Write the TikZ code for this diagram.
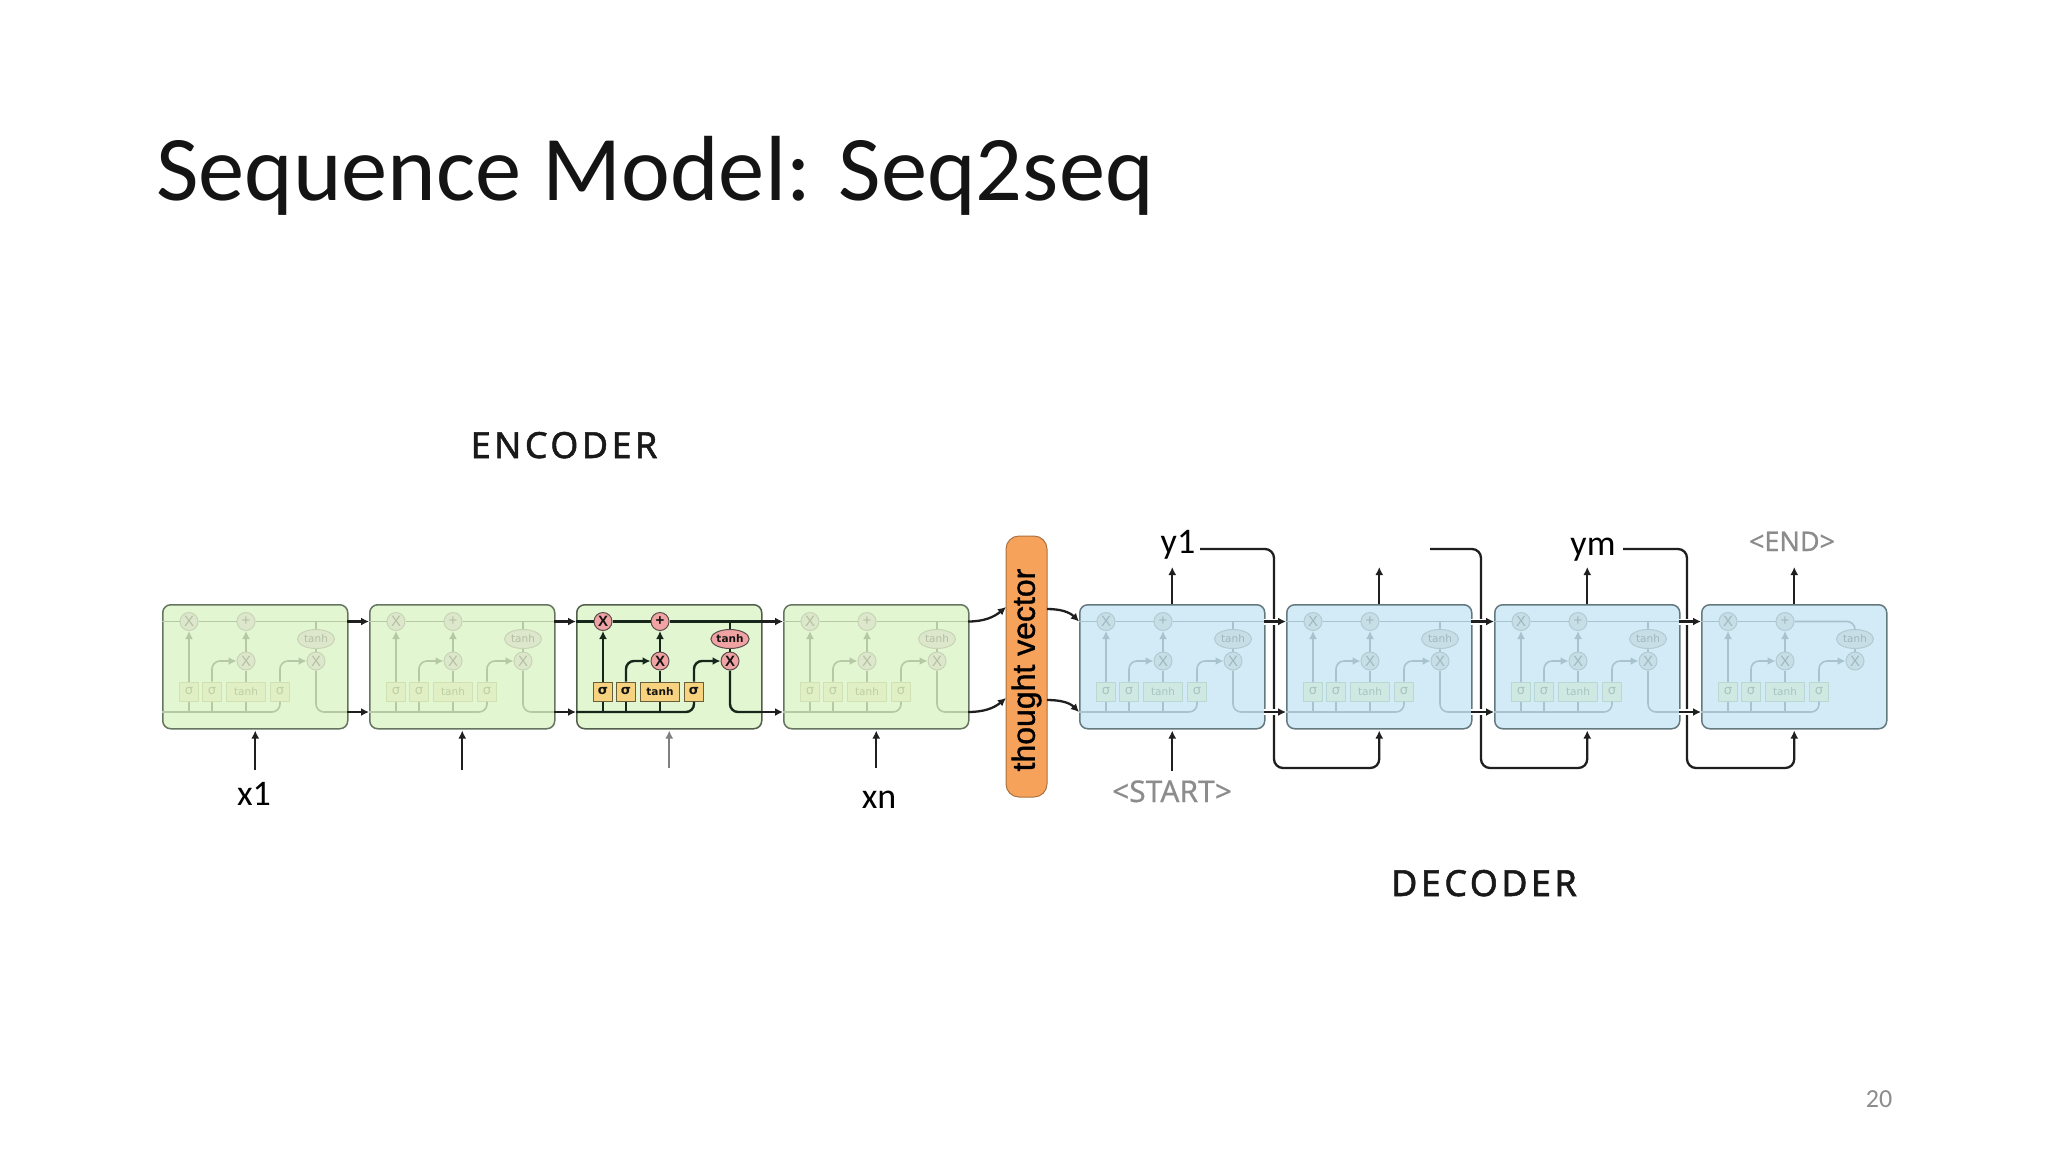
\documentclass[tikz,border=0pt]{standalone}
\usepackage{fontspec}
\setmainfont{Carlito}
\newfontfamily\lblfont[FakeBold=0.4]{Noto Sans}
\newfontfamily\capfont[LetterSpace=9.5,FakeBold=1.4]{Noto Sans}
\newfontfamily\tvfont[FakeBold=1.1]{Liberation Sans}
\newfontfamily\symfont{DejaVu Sans}
\newfontfamily\gatefont{Liberation Sans}
\usetikzlibrary{arrows.meta,shapes.geometric}
\definecolor{cgreen}{HTML}{E2F6D2}
\definecolor{cblue}{HTML}{D3EBF6}
\definecolor{gborder}{HTML}{66755F}
\definecolor{bborder}{HTML}{64797F}
\definecolor{orangetv}{HTML}{F6A25B}
\definecolor{graytxt}{HTML}{8C8C8C}
\newcommand{\gw}{\mdseries}
\tikzset{
  x=1pt,y=-1pt,
  tipped/.style={-{Latex[length=8pt,width=8pt]}},
  cellbox/.style={draw=cellborder,line width=1.5pt,fill=cellfill,rounded corners=8pt,minimum width=185pt,minimum height=124pt,inner sep=0pt,anchor=north west},
  innerwire/.style={draw=innerline,line width=1.6pt},
  gate/.style={circle,draw=gateline,fill=gatefill,line width=1pt,minimum size=18pt,inner sep=0pt,text=gatetext,font=\gatefont\gw\fontsize{15}{15}\selectfont},
  tanhgate/.style={ellipse,draw=gateline,fill=gatefill,line width=1pt,minimum width=37pt,minimum height=19pt,inner sep=0pt,text=gatetext,font=\symfont\gw\fontsize{10.5}{10.5}\selectfont},
  nnlayer/.style={rectangle,draw=boxline,fill=boxfill,line width=1pt,minimum height=19pt,inner sep=0pt,text=boxtext,font=\symfont\gw\fontsize{10.5}{10.5}\selectfont},
  sigmalayer/.style={nnlayer,minimum width=19pt,font=\symfont\gw\fontsize{13}{13}\selectfont},
  bk/.style={draw=black!88,line width=2.3pt},
  halo/.style={draw=white,line width=6pt},
  txtlabel/.style={anchor=base,inner sep=0pt,font=\fontsize{36}{36}\selectfont},
  graylabel/.style={anchor=base,inner sep=0pt,text=graytxt,font=\lblfont\fontsize{30}{30}\selectfont},
  partlabel/.style={anchor=base,inner sep=0pt,text=black!90,font=\capfont\fontsize{36}{36}\selectfont},
}
\newcommand{\themebase}[2]{\colorlet{cellfill}{#1}\colorlet{cellborder}{#2}}
\newcommand{\themegreen}{\themebase{cgreen}{gborder}\renewcommand{\gw}{\mdseries}%
  \definecolor{innerline}{HTML}{B6C8A6}\definecolor{gatefill}{HTML}{DDE7CC}\definecolor{gateline}{HTML}{C8D4B6}\definecolor{gatetext}{HTML}{B4BFA2}\definecolor{boxfill}{HTML}{E0F0C4}\definecolor{boxline}{HTML}{D0E2B2}\definecolor{boxtext}{HTML}{BFCFA4}}
\newcommand{\themeblue}{\themebase{cblue}{bborder}\renewcommand{\gw}{\mdseries}%
  \definecolor{innerline}{HTML}{A8C3CD}\definecolor{gatefill}{HTML}{C8DEE7}\definecolor{gateline}{HTML}{B2CAD3}\definecolor{gatetext}{HTML}{9DB7C0}\definecolor{boxfill}{HTML}{D0E8E2}\definecolor{boxline}{HTML}{BAD8D2}\definecolor{boxtext}{HTML}{A6C4BE}}
\newcommand{\themehot}{\themebase{cgreen}{gborder!80!black}\renewcommand{\gw}{\bfseries}%
  \definecolor{innerline}{HTML}{17261A}\definecolor{gatefill}{HTML}{F1A3A3}\definecolor{gateline}{HTML}{5A4A4A}\definecolor{gatetext}{HTML}{141414}\definecolor{boxfill}{HTML}{F8D37F}\definecolor{boxline}{HTML}{6A5D3A}\definecolor{boxtext}{HTML}{141414}}
% name, x
\newcommand{\cellparts}[2]{%
  \begin{scope}[shift={(#2,604)}]
    \node[cellbox] (#1) at (0,0) {};
    \coordinate (#1-tl) at (0,17.5);
    \coordinate (#1-tr) at (185,17.5);
    \coordinate (#1-tb) at (154,17.5);
    \coordinate (#1-bl) at (0,108);
    \coordinate (#1-br) at (185,108);
    \node[gate] (#1-x1) at (27,17.5) {X};
    \node[gate] (#1-add) at (84,17.5) {+};
    \node[gate] (#1-x2) at (84,57) {X};
    \node[gate] (#1-x3) at (154,57) {X};
    \node[tanhgate] (#1-th) at (154,35) {tanh};
    \node[sigmalayer] (#1-s1) at (27,87.5) {σ};
    \node[sigmalayer] (#1-s2) at (50,87.5) {σ};
    \node[nnlayer,minimum width=39pt] (#1-tb2) at (84,87.5) {tanh};
    \node[sigmalayer] (#1-s3) at (118,87.5) {σ};
    \draw[innerwire,tipped] (#1-s1) -- (#1-x1);
    \draw[innerwire,tipped,rounded corners=8pt] (#1-s2.north) |- (#1-x2);
    \draw[innerwire] (#1-tb2) -- (#1-x2);
    \draw[innerwire,tipped] (#1-x2) -- (#1-add);
    \draw[innerwire,tipped,rounded corners=8pt] (#1-s3.north) |- (#1-x3);
    \draw[innerwire] (#1-s1) -- (#1-s1 |- #1-bl);
    \draw[innerwire] (#1-s2) -- (#1-s2 |- #1-bl);
    \draw[innerwire] (#1-tb2) -- (#1-tb2 |- #1-bl);
    \draw[innerwire,rounded corners=8pt] (#1-bl) -| (#1-s3.south);
    \draw[innerwire] (#1-tl) -- (#1-x1);
    \draw[innerwire] (#1-x1) -- (#1-add);
    \draw[innerwire] (#1-th) -- (#1-x3);
  \end{scope}}
\newcommand{\cellflow}[1]{%
  \draw[innerwire] (#1-add) -- (#1-tr);
  \draw[innerwire] (#1-tb) -- (#1-th);
  \draw[innerwire,rounded corners=8pt] (#1-x3) |- (#1-br);}
\newcommand{\cellend}[1]{%
  \draw[innerwire,rounded corners=8pt] (#1-add) -| (#1-th);}
\begin{document}
\begin{tikzpicture}
\path[use as bounding box,fill=white] (0,0) rectangle (2048,1152);

\node[anchor=base west,inner sep=0pt,text=black!92,font=\fontsize{92.5}{92.5}\selectfont] (title) at (156,200) {Sequence Model: Seq2seq};
\node[partlabel] (enc) at (564,458) {ENCODER};
\node[partlabel] (dec) at (1484,896) {DECODER};

% cells
\themegreen
\cellparts{e1}{162}\cellflow{e1}
\cellparts{e2}{369}\cellflow{e2}
\themehot
\tikzset{innerwire/.style={draw=innerline,line width=2.4pt}}
\cellparts{e3}{576}\cellflow{e3}
\tikzset{innerwire/.style={draw=innerline,line width=1.6pt}}
\themegreen
\cellparts{e4}{783}\cellflow{e4}
\themeblue
\cellparts{d1}{1079}\cellflow{d1}
\cellparts{d2}{1286}\cellflow{d2}
\cellparts{d3}{1494}\cellflow{d3}
\cellparts{d4}{1701}\cellend{d4}

% thought vector
\node[rectangle,rotate=90,draw=orangetv!70!black,line width=1pt,fill=orangetv,rounded corners=13pt,minimum width=261pt,minimum height=41pt,inner sep=0pt,font=\tvfont\fontsize{32}{32}\selectfont] (tv) at (1026.5,666.5) {thought vector\kern7pt};

% encoder links
\draw[bk,tipped] (e1-tr) -- (e2-tl);
\draw[bk,tipped] (e1-br) -- (e2-bl);
\draw[bk,tipped] (e2-tr) -- (e3-tl);
\draw[bk,tipped] (e2-br) -- (e3-bl);
\draw[bk,tipped] (e3-tr) -- (e4-tl);
\draw[bk,tipped] (e3-br) -- (e4-bl);

% to and from the thought vector
\coordinate (ti1) at (1006,607);
\coordinate (ti2) at (1006,698);
\coordinate (to1) at (1047,609);
\coordinate (to2) at (1047,700);
\draw[bk,tipped] (e4-tr) to[out=0,in=220] (ti1);
\draw[bk,tipped] (e4-br) to[out=0,in=220] (ti2);
\draw[bk,tipped] (to1) to[out=0,in=135] (d1-tl);
\draw[bk,tipped] (to2) to[out=0,in=135] (d1-bl);

% inputs
\coordinate (i1) at (e1.south |- 0,770);
\coordinate (i2) at (e2.south |- 0,770);
\coordinate (i3) at (e3.south |- 0,768);
\coordinate (i4) at (e4.south |- 0,768);
\coordinate (i5) at (d1.south |- 0,771);
\draw[bk,tipped,shorten >=1pt] (i1) -- (e1.south);
\draw[bk,tipped,shorten >=1pt] (i2) -- (e2.south);
\draw[draw=gray,line width=2pt,tipped,shorten >=1pt] (i3) -- (e3.south);
\draw[bk,tipped,shorten >=1pt] (i4) -- (e4.south);
\draw[bk,tipped,shorten >=1pt] (i5) -- (d1.south);

% outputs
\coordinate (o1) at (d1.north |- 0,567);
\coordinate (o2) at (d2.north |- 0,567);
\coordinate (o3) at (d3.north |- 0,567);
\coordinate (o4) at (d4.north |- 0,567);
\draw[bk,tipped] (d1.north) -- (o1);
\draw[bk,tipped] (d2.north) -- (o2);
\draw[bk,tipped] (d3.north) -- (o3);
\draw[bk,tipped] (d4.north) -- (o4);

% feedback loops
\coordinate (f1a) at (1200,549);
\coordinate (f2a) at (1430,549);
\coordinate (f3a) at (1623,549);
\coordinate (f1v) at (1274,549);
\coordinate (f2v) at (1481,549);
\coordinate (f3v) at (1687,549);
\coordinate (f1w) at (1274,768);
\coordinate (f2w) at (1481,768);
\coordinate (f3w) at (1687,768);
\draw[bk,tipped,rounded corners=9pt,shorten >=1pt] (f1a) -- (f1v) -- (f1w) -- (d2.south |- f1w) -- (d2.south);
\draw[bk,tipped,rounded corners=9pt,shorten >=1pt] (f2a) -- (f2v) -- (f2w) -- (d3.south |- f2w) -- (d3.south);
\draw[bk,tipped,rounded corners=9pt,shorten >=1pt] (f3a) -- (f3v) -- (f3w) -- (d4.south |- f3w) -- (d4.south);

% decoder links, crossing the loops
\draw[halo] (d1-tr) -- (d2-tl);
\draw[halo] (d1-br) -- (d2-bl);
\draw[halo] (d2-tr) -- (d3-tl);
\draw[halo] (d2-br) -- (d3-bl);
\draw[halo] (d3-tr) -- (d4-tl);
\draw[halo] (d3-br) -- (d4-bl);
\draw[bk,tipped] (d1-tr) -- (d2-tl);
\draw[bk,tipped] (d1-br) -- (d2-bl);
\draw[bk,tipped] (d2-tr) -- (d3-tl);
\draw[bk,tipped] (d2-br) -- (d3-bl);
\draw[bk,tipped] (d3-tr) -- (d4-tl);
\draw[bk,tipped] (d3-br) -- (d4-bl);

% labels
\node[txtlabel] (x1) at (254,805) {x1};
\node[txtlabel] (xn) at (879,808) {xn};
\node[txtlabel] (y1) at (1178,553) {y1};
\node[txtlabel] (ym) at (1593,555) {ym};
\node[graylabel] (start) at (1172,802) {<START>};
\node[graylabel,font=\lblfont\fontsize{27}{27}\selectfont] (end) at (1792,551) {<END>};
\node[anchor=base,inner sep=0pt,text=graytxt,font=\fontsize{26}{26}\selectfont] (page) at (1879,1107) {20};
\end{tikzpicture}
\end{document}
